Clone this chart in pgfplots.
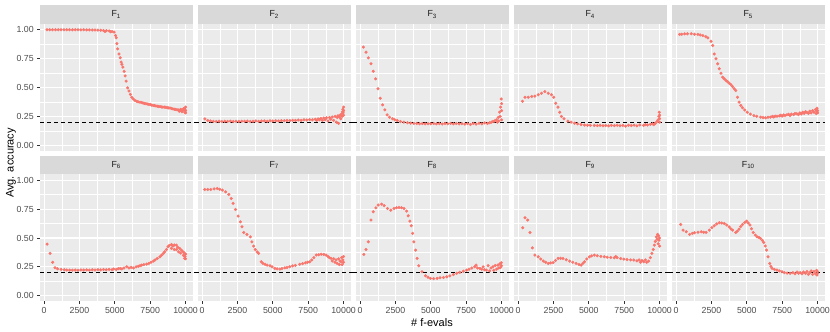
\documentclass[border=0pt]{standalone}
\usepackage{fontspec}
\setmainfont{Liberation Sans}
\usepackage{pgfplots}
\pgfplotsset{compat=1.18}

\definecolor{panelbg}{HTML}{EBEBEB}
\definecolor{stripbg}{HTML}{D9D9D9}
\definecolor{ggred}{HTML}{F8766D}
\definecolor{ticktext}{HTML}{4D4D4D}
\definecolor{tickmark}{HTML}{333333}
\definecolor{striptext}{HTML}{1A1A1A}

\tikzset{refline/.style={black, line width=0.9pt, dash pattern=on 4pt off 3pt}}

\pgfplotsset{
  panel/.style={
    scale only axis, width=152.5pt, height=127pt, anchor=south west,
    xmin=-290, xmax=10490, ymin=-0.05, ymax=1.05,
    axis background/.style={fill=panelbg},
    axis line style={draw=none},
    xtick={0,2500,5000,7500,10000}, minor xtick={1250,3750,6250,8750},
    ytick={0,0.25,0.5,0.75,1}, minor ytick={0.125,0.375,0.625,0.875},
    grid=both,
    major grid style={white, line width=1.1pt},
    minor grid style={white, line width=0.55pt},
    tick align=outside, major tick length=2.75pt, minor tick length=0pt,
    xtick pos=left, ytick pos=left,
    tick style={tickmark, line width=0.9pt},
    ticklabel style={font=\fontsize{8.8}{10}\selectfont, text=ticktext},
    /pgf/number format/assume math mode=true,
    scaled ticks=false,
    xticklabel style={/pgf/number format/1000 sep={}},
    yticklabel style={/pgf/number format/fixed, /pgf/number format/fixed zerofill, /pgf/number format/precision=2},
    clip=false,
  },
  hideX/.style={xticklabels={}, xtick style={draw=none}},
  hideY/.style={yticklabels={}, ytick style={draw=none}},
  pts/.style={only marks, mark=*, mark size=1.35pt, color=ggred, mark options={draw=none, fill=ggred}},
}

\begin{document}
\begin{tikzpicture}[x=1pt, y=1pt]
\path[use as bounding box] (0,0) rectangle (830,332);

% facet strips
\foreach \x/\lab in {40/1,198/2,356/3,514/4,672/5}{
  \fill[stripbg] (\x,308) rectangle (\x+152.5,327);
  \node[font=\fontsize{8.8}{10}\selectfont, text=striptext] at (\x+76.25,317.5) {F\textsubscript{\lab}};
}
\foreach \x/\lab in {40/6,198/7,356/8,514/9,672/10}{
  \fill[stripbg] (\x,157.5) rectangle (\x+152.5,176);
  \node[font=\fontsize{8.8}{10}\selectfont, text=striptext] at (\x+76.25,166.75) {F\textsubscript{\lab}};
}

% ---- row 1 ----
\begin{axis}[panel, hideX, at={(40pt,181pt)}]
\addplot[pts] coordinates {(200,1.0)(400,1.0)(600,1.0)(800,1.0)(1000,1.0)(1200,1.0)(1400,1.0)(1600,1.0)(1800,1.0)(2000,1.0)(2200,1.0)(2400,1.0)(2600,0.999)(2800,1.0)(3000,0.999)(3200,0.999)(3400,0.998)(3600,0.998)(3800,0.997)(4000,0.996)(4200,0.993)(4300,0.985)(4400,0.992)(4600,0.99)(4700,0.983)(4800,0.985)(4950,0.98)(5050,0.95)(5100,0.93)(5150,0.88)(5200,0.835)(5300,0.79)(5380,0.757)(5450,0.72)(5500,0.70)(5570,0.676)(5660,0.64)(5730,0.60)(5800,0.555)(5900,0.497)(6000,0.47)(6100,0.44)(6200,0.416)(6300,0.40)(6430,0.387)(6550,0.38)(6650,0.376)(6780,0.373)(6900,0.37)(7000,0.365)(7100,0.362)(7200,0.36)(7300,0.357)(7400,0.355)(7500,0.352)(7600,0.348)(7700,0.345)(7800,0.343)(7900,0.34)(8000,0.338)(8100,0.336)(8200,0.335)(8300,0.332)(8400,0.33)(8500,0.33)(8600,0.328)(8700,0.325)(8800,0.323)(8900,0.322)(9000,0.318)(9100,0.315)(9200,0.312)(9300,0.31)(9400,0.307)(9500,0.305)(9550,0.295)(9600,0.30)(9650,0.31)(9700,0.305)(9750,0.29)(9800,0.30)(9850,0.315)(9900,0.32)(9950,0.285)(9950,0.31)(10000,0.30)(10000,0.33)(10000,0.28)};
\draw[refline] (axis cs:-290,0.2) -- (axis cs:10690,0.2);
\end{axis}

\begin{axis}[panel, hideX, hideY, at={(198pt,181pt)}]
\addplot[pts] coordinates {(200,0.228)(400,0.215)(600,0.21)(800,0.207)(1000,0.206)(1200,0.208)(1400,0.205)(1600,0.207)(1800,0.206)(2000,0.208)(2200,0.205)(2400,0.207)(2600,0.206)(2800,0.208)(3000,0.207)(3200,0.209)(3400,0.206)(3600,0.208)(3800,0.21)(4000,0.207)(4200,0.209)(4400,0.21)(4600,0.208)(4800,0.211)(5000,0.21)(5200,0.212)(5400,0.21)(5600,0.213)(5800,0.212)(6000,0.215)(6200,0.213)(6400,0.216)(6600,0.215)(6800,0.218)(7000,0.216)(7200,0.22)(7400,0.218)(7600,0.222)(7800,0.22)(8000,0.225)(8100,0.215)(8200,0.228)(8300,0.22)(8400,0.232)(8500,0.215)(8600,0.235)(8700,0.222)(8800,0.238)(8900,0.21)(9000,0.24)(9100,0.225)(9200,0.245)(9300,0.215)(9400,0.25)(9500,0.2)(9550,0.24)(9600,0.255)(9650,0.19)(9700,0.245)(9750,0.26)(9800,0.23)(9850,0.27)(9900,0.25)(9920,0.29)(9950,0.31)(9970,0.28)(10000,0.33)(10000,0.30)(10000,0.26)};
\draw[refline] (axis cs:-490,0.2) -- (axis cs:10690,0.2);
\end{axis}

\begin{axis}[panel, hideX, hideY, at={(356pt,181pt)}]
\addplot[pts] coordinates {(230,0.85)(420,0.806)(580,0.757)(770,0.705)(930,0.64)(1100,0.575)(1260,0.489)(1420,0.407)(1590,0.35)(1750,0.307)(1910,0.263)(2080,0.243)(2290,0.229)(2450,0.22)(2630,0.214)(2850,0.205)(3100,0.20)(3350,0.195)(3570,0.191)(3800,0.189)(4000,0.188)(4200,0.186)(4400,0.188)(4600,0.185)(4800,0.187)(5000,0.186)(5200,0.188)(5400,0.185)(5600,0.187)(5800,0.184)(6000,0.188)(6200,0.186)(6400,0.189)(6600,0.185)(6800,0.188)(7000,0.184)(7200,0.187)(7400,0.183)(7600,0.188)(7800,0.18)(8000,0.189)(8200,0.183)(8400,0.19)(8600,0.185)(8800,0.193)(9000,0.188)(9160,0.195)(9300,0.2)(9390,0.205)(9500,0.21)(9630,0.22)(9700,0.2)(9760,0.24)(9800,0.21)(9860,0.286)(9900,0.25)(9940,0.33)(9980,0.4)(10000,0.36)(10000,0.30)(10000,0.22)};
\draw[refline] (axis cs:-490,0.2) -- (axis cs:10690,0.2);
\end{axis}

\begin{axis}[panel, hideX, hideY, at={(514pt,181pt)}]
\addplot[pts] coordinates {(310,0.38)(490,0.416)(720,0.416)(960,0.422)(1190,0.425)(1420,0.437)(1660,0.45)(1890,0.465)(2130,0.45)(2360,0.437)(2520,0.416)(2660,0.364)(2820,0.33)(2940,0.286)(3060,0.249)(3240,0.229)(3520,0.208)(3750,0.2)(3990,0.191)(4200,0.185)(4450,0.179)(4700,0.175)(4900,0.173)(5100,0.172)(5390,0.171)(5600,0.17)(5800,0.172)(6000,0.169)(6200,0.171)(6400,0.168)(6600,0.172)(6800,0.17)(7000,0.173)(7200,0.169)(7400,0.172)(7600,0.165)(7800,0.173)(8000,0.17)(8200,0.174)(8400,0.168)(8600,0.176)(8880,0.172)(9000,0.178)(9150,0.175)(9350,0.18)(9500,0.185)(9600,0.178)(9700,0.19)(9820,0.205)(9900,0.22)(9950,0.25)(9980,0.286)(10000,0.26)(10000,0.23)(10000,0.2)};
\draw[refline] (axis cs:-490,0.2) -- (axis cs:10690,0.2);
\end{axis}

\begin{axis}[panel, hideX, hideY, at={(672pt,181pt)}]
\addplot[pts] coordinates {(250,0.96)(400,0.962)(600,0.965)(800,0.965)(1070,0.965)(1300,0.962)(1540,0.96)(1700,0.955)(1890,0.95)(2100,0.94)(2240,0.93)(2470,0.90)(2590,0.864)(2700,0.79)(2820,0.749)(2940,0.705)(3050,0.662)(3170,0.624)(3290,0.589)(3400,0.575)(3520,0.561)(3640,0.55)(3750,0.537)(3870,0.525)(3990,0.509)(4100,0.49)(4220,0.474)(4340,0.416)(4450,0.373)(4570,0.345)(4690,0.324)(4850,0.305)(5030,0.286)(5250,0.27)(5500,0.257)(5700,0.25)(5970,0.243)(6150,0.24)(6320,0.237)(6500,0.242)(6660,0.243)(6800,0.25)(6900,0.245)(7000,0.252)(7130,0.251)(7300,0.255)(7400,0.26)(7500,0.252)(7600,0.262)(7700,0.257)(7830,0.263)(7950,0.268)(8050,0.258)(8150,0.27)(8300,0.265)(8400,0.275)(8530,0.272)(8650,0.265)(8750,0.28)(8850,0.27)(8950,0.285)(9050,0.275)(9150,0.29)(9230,0.286)(9350,0.275)(9450,0.295)(9550,0.28)(9650,0.3)(9750,0.285)(9850,0.31)(9900,0.275)(9930,0.295)(9960,0.32)(10000,0.3)(10000,0.28)};
\draw[refline] (axis cs:-490,0.2) -- (axis cs:10490,0.2);
\end{axis}

% ---- row 2 ----
\begin{axis}[panel, at={(40pt,30.5pt)}]
\addplot[pts] coordinates {(210,0.447)(420,0.367)(610,0.289)(770,0.242)(950,0.233)(1200,0.228)(1420,0.225)(1600,0.223)(1800,0.222)(2000,0.221)(2200,0.222)(2400,0.221)(2600,0.223)(2800,0.222)(3000,0.224)(3200,0.222)(3400,0.225)(3600,0.223)(3800,0.226)(4000,0.224)(4200,0.227)(4400,0.225)(4600,0.228)(4800,0.226)(4920,0.231)(5100,0.228)(5250,0.234)(5380,0.236)(5500,0.232)(5650,0.24)(5850,0.251)(6000,0.24)(6150,0.245)(6320,0.241)(6500,0.25)(6650,0.255)(6780,0.26)(6900,0.265)(7050,0.27)(7250,0.274)(7400,0.28)(7550,0.29)(7720,0.30)(7850,0.31)(8000,0.322)(8180,0.337)(8300,0.35)(8420,0.365)(8530,0.381)(8650,0.40)(8760,0.424)(8850,0.435)(9000,0.444)(9000,0.41)(9100,0.43)(9200,0.44)(9200,0.40)(9350,0.438)(9350,0.40)(9450,0.42)(9500,0.38)(9580,0.41)(9650,0.37)(9700,0.395)(9810,0.381)(9850,0.35)(9900,0.37)(9930,0.323)(9960,0.34)(10000,0.36)(10000,0.32)};
\draw[refline] (axis cs:-290,0.2) -- (axis cs:10690,0.2);
\end{axis}

\begin{axis}[panel, hideY, at={(198pt,30.5pt)}]
\addplot[pts] coordinates {(190,0.92)(400,0.92)(610,0.92)(850,0.925)(1070,0.929)(1250,0.922)(1430,0.915)(1660,0.90)(1890,0.877)(2060,0.843)(2190,0.80)(2360,0.747)(2550,0.69)(2710,0.64)(2820,0.597)(2940,0.548)(3170,0.531)(3410,0.51)(3520,0.467)(3640,0.43)(3760,0.40)(3890,0.38)(3990,0.367)(4180,0.294)(4300,0.28)(4450,0.272)(4600,0.265)(4800,0.26)(4950,0.25)(5150,0.237)(5300,0.233)(5500,0.231)(5650,0.236)(5850,0.242)(6000,0.245)(6200,0.251)(6400,0.258)(6600,0.263)(6900,0.272)(7100,0.278)(7300,0.285)(7450,0.29)(7600,0.294)(7750,0.31)(7900,0.33)(8070,0.352)(8250,0.355)(8420,0.36)(8600,0.358)(8770,0.352)(8900,0.34)(9000,0.33)(9120,0.323)(9200,0.30)(9300,0.32)(9400,0.29)(9470,0.31)(9550,0.28)(9650,0.32)(9700,0.27)(9750,0.30)(9820,0.294)(9870,0.33)(9900,0.27)(9950,0.31)(10000,0.34)(10000,0.29)};
\draw[refline] (axis cs:-490,0.2) -- (axis cs:10690,0.2);
\end{axis}

\begin{axis}[panel, hideY, at={(356pt,30.5pt)}]
\addplot[pts] coordinates {(260,0.358)(420,0.40)(580,0.467)(770,0.655)(930,0.727)(1120,0.761)(1280,0.785)(1520,0.793)(1700,0.78)(1940,0.756)(2170,0.741)(2400,0.756)(2580,0.762)(2750,0.765)(2920,0.762)(3100,0.756)(3290,0.733)(3400,0.692)(3520,0.646)(3620,0.606)(3710,0.54)(3800,0.467)(3920,0.395)(4030,0.323)(4150,0.26)(4380,0.208)(4620,0.173)(4800,0.16)(4970,0.15)(5200,0.148)(5440,0.15)(5650,0.155)(5900,0.158)(6130,0.164)(6350,0.172)(6600,0.183)(6830,0.194)(7050,0.203)(7300,0.212)(7530,0.222)(7700,0.23)(7900,0.24)(8110,0.251)(8200,0.265)(8300,0.24)(8460,0.237)(8600,0.23)(8700,0.25)(8800,0.225)(8930,0.222)(9050,0.26)(9150,0.215)(9250,0.24)(9390,0.251)(9450,0.22)(9550,0.262)(9650,0.23)(9740,0.265)(9800,0.24)(9870,0.275)(9920,0.245)(9980,0.286)(10000,0.26)};
\draw[refline] (axis cs:-490,0.2) -- (axis cs:10690,0.2);
\end{axis}

\begin{axis}[panel, hideY, at={(514pt,30.5pt)}]
\addplot[pts] coordinates {(330,0.588)(490,0.675)(680,0.655)(840,0.548)(1010,0.415)(1190,0.352)(1420,0.337)(1600,0.318)(1780,0.30)(1950,0.29)(2130,0.28)(2300,0.284)(2480,0.287)(2650,0.305)(2830,0.323)(3000,0.324)(3170,0.323)(3400,0.312)(3640,0.30)(3870,0.29)(4100,0.28)(4300,0.27)(4450,0.265)(4580,0.28)(4690,0.294)(4850,0.318)(5040,0.337)(5200,0.345)(5390,0.352)(5600,0.346)(5850,0.34)(6090,0.337)(6300,0.334)(6550,0.331)(6790,0.329)(6900,0.34)(7000,0.33)(7250,0.322)(7480,0.317)(7700,0.313)(7950,0.31)(8180,0.309)(8400,0.302)(8550,0.31)(8650,0.29)(8750,0.305)(8880,0.294)(9000,0.31)(9100,0.29)(9230,0.30)(9350,0.33)(9460,0.367)(9550,0.40)(9630,0.438)(9700,0.47)(9770,0.51)(9820,0.49)(9860,0.531)(9900,0.45)(9930,0.52)(9960,0.48)(10000,0.50)(10000,0.43)};
\draw[refline] (axis cs:-490,0.2) -- (axis cs:10690,0.2);
\end{axis}

\begin{axis}[panel, hideY, at={(672pt,30.5pt)}]
\addplot[pts] coordinates {(320,0.617)(490,0.568)(720,0.554)(960,0.531)(1150,0.54)(1300,0.545)(1550,0.55)(1770,0.554)(1950,0.55)(2120,0.548)(2350,0.568)(2530,0.59)(2700,0.606)(2870,0.622)(3050,0.632)(3230,0.63)(3400,0.626)(3580,0.612)(3750,0.597)(3870,0.58)(3990,0.568)(4220,0.548)(4330,0.56)(4450,0.577)(4570,0.6)(4690,0.617)(4850,0.635)(4990,0.646)(5100,0.63)(5220,0.612)(5330,0.58)(5450,0.548)(5600,0.525)(5730,0.51)(5850,0.505)(5970,0.496)(6100,0.48)(6200,0.461)(6300,0.43)(6390,0.395)(6500,0.337)(6620,0.28)(6700,0.255)(6780,0.237)(6950,0.228)(7130,0.222)(7300,0.215)(7480,0.208)(7650,0.2)(7850,0.196)(8060,0.194)(8250,0.2)(8400,0.19)(8550,0.205)(8650,0.195)(8760,0.2)(8900,0.19)(9000,0.205)(9150,0.195)(9250,0.21)(9350,0.185)(9460,0.2)(9550,0.215)(9650,0.185)(9750,0.21)(9850,0.19)(9930,0.22)(9960,0.18)(10000,0.21)(10000,0.195)};
\draw[refline] (axis cs:-490,0.2) -- (axis cs:10490,0.2);
\end{axis}

% axis titles
\node[rotate=90, font=\fontsize{11}{12}\selectfont] at (11,169) {Avg. accuracy};
\node[font=\fontsize{11}{12}\selectfont] at (432,9) {\# f-evals};
\end{tikzpicture}
\end{document}
